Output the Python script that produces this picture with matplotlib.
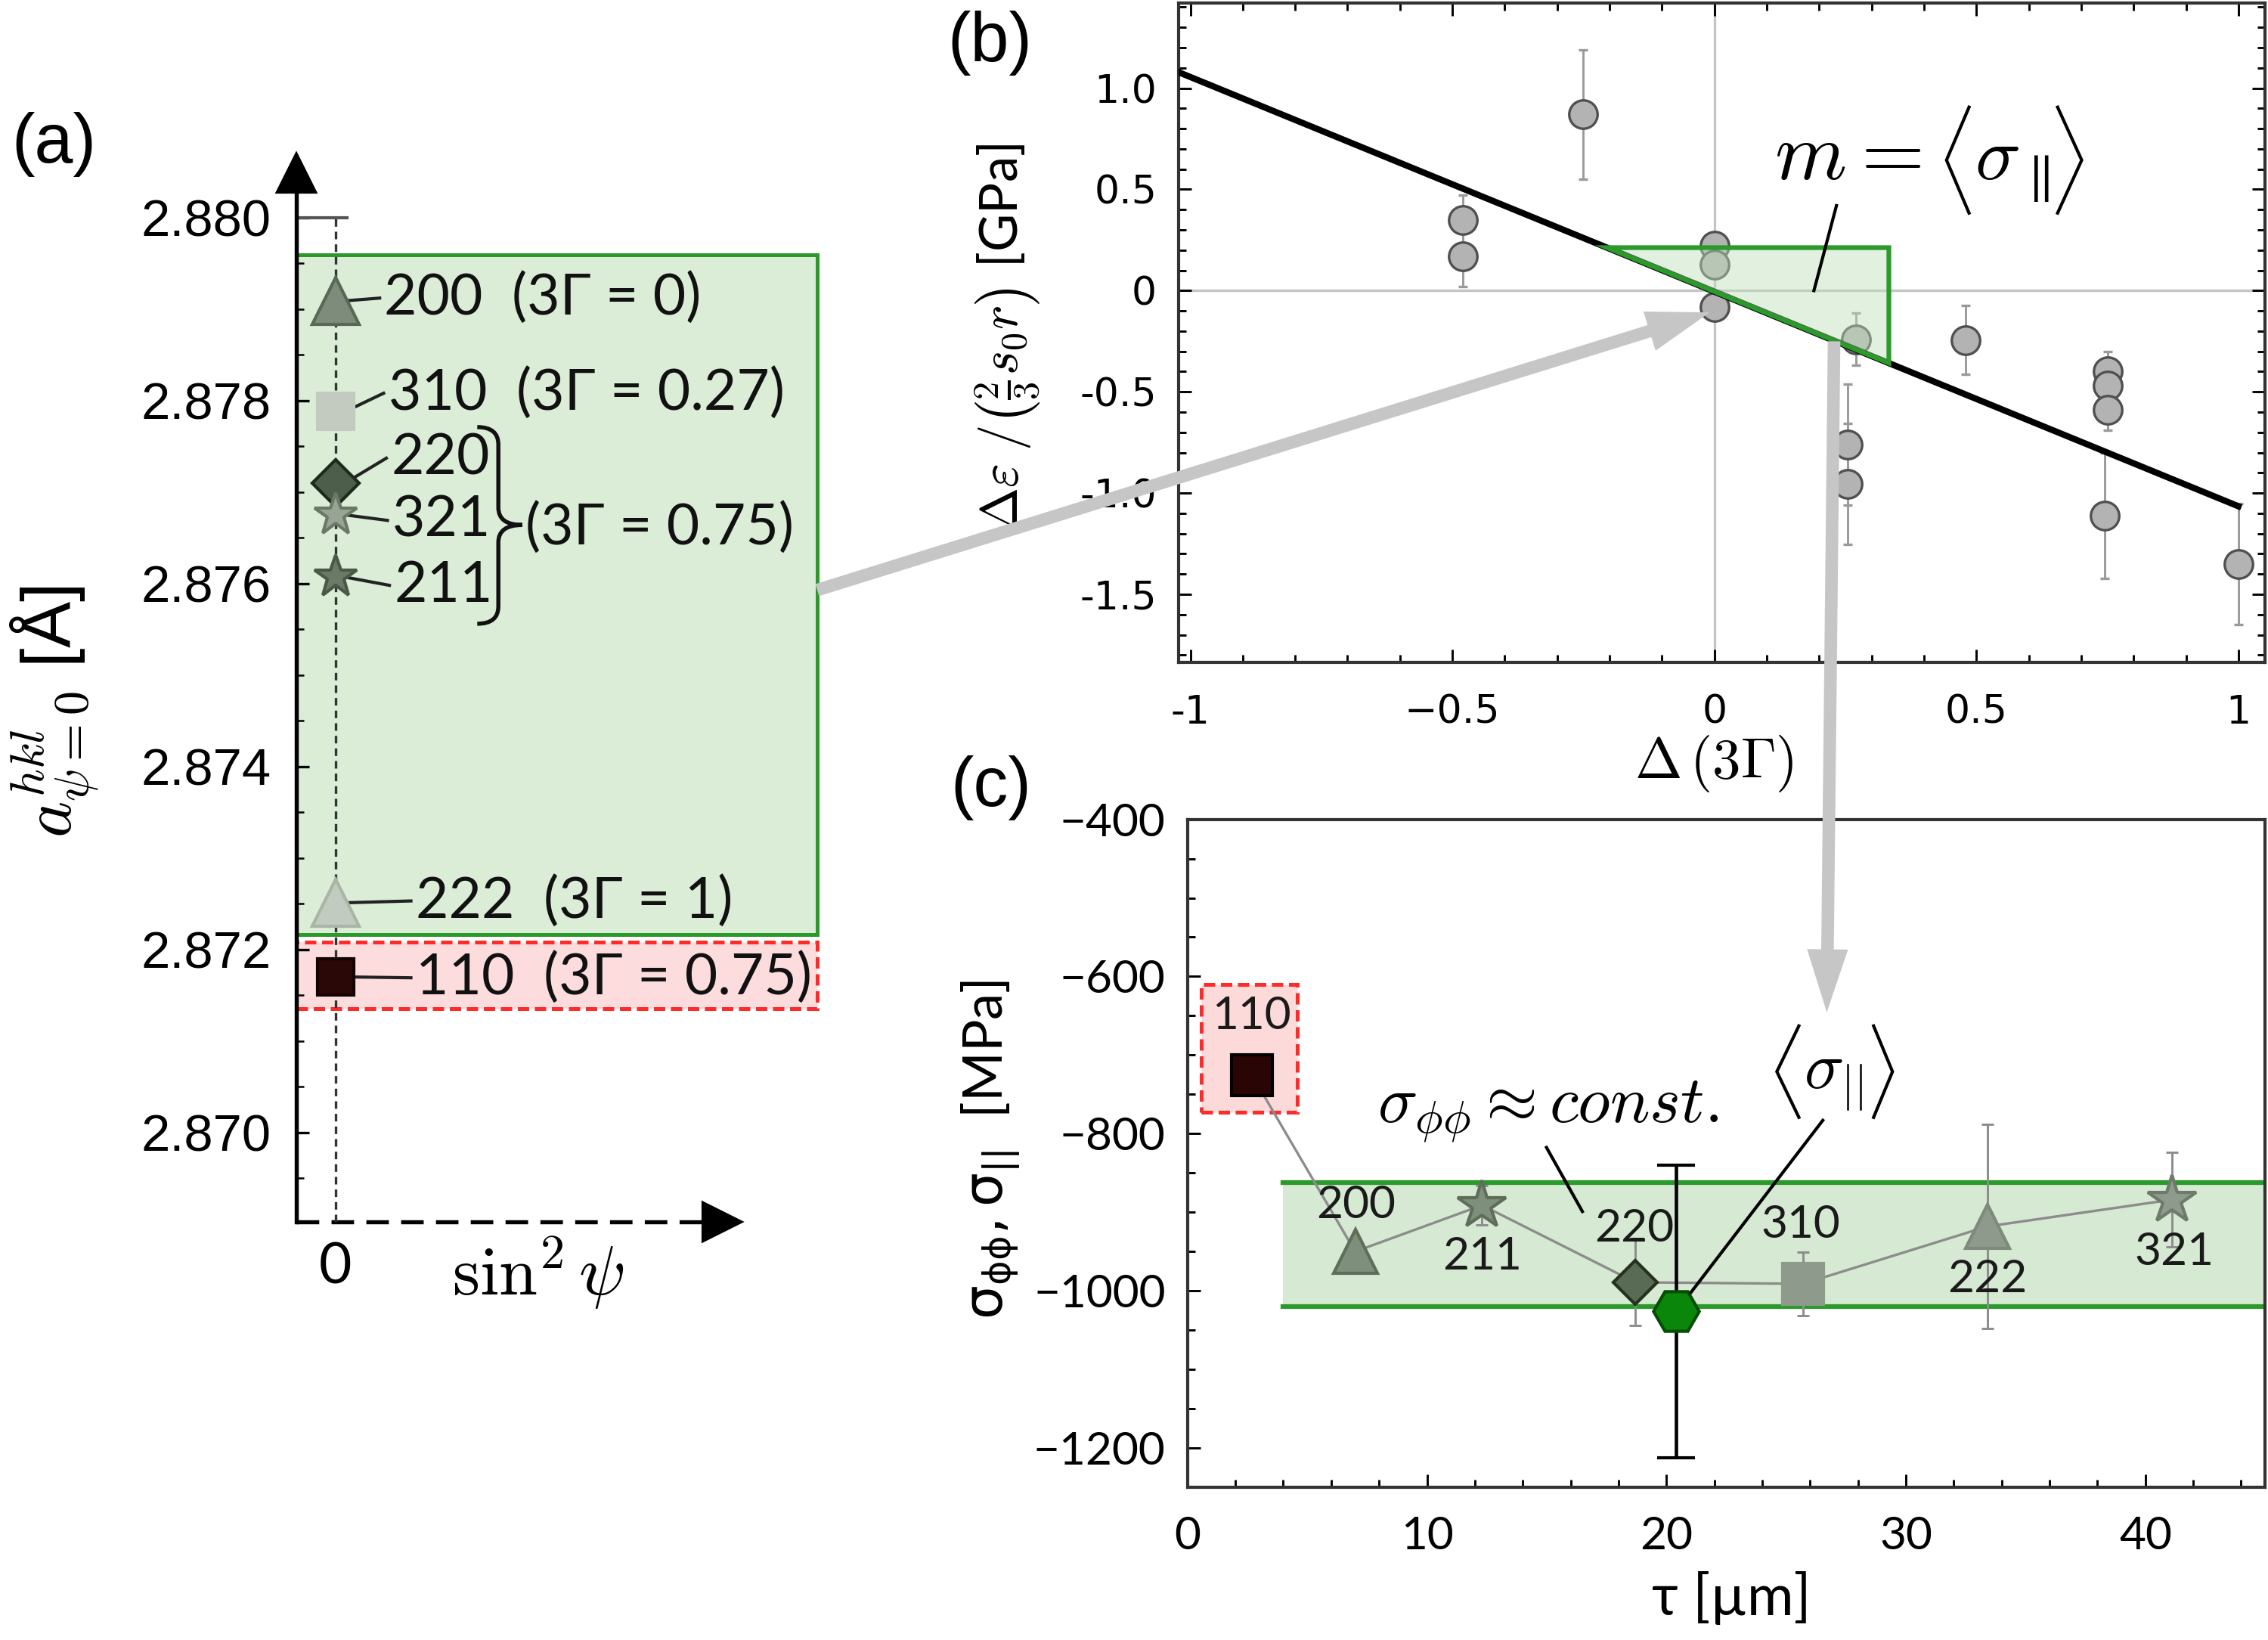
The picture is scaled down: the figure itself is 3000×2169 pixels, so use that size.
import numpy as np
import matplotlib.pyplot as plt
from matplotlib.path import Path
from matplotlib.patches import PathPatch, Rectangle, FancyArrowPatch, Polygon
from matplotlib.ticker import MultipleLocator

plt.rcParams['mathtext.fontset'] = 'cm'
plt.rcParams['font.family'] = ['Lato', 'DejaVu Sans']
plt.rcParams['axes.unicode_minus'] = True

# (a) lattice parameter at psi = 0 for each reflection
a_hkl = ['200', '310', '220', '321', '211', '222', '110']
a_lat = [2.87909, 2.87788, 2.87710, 2.87675, 2.87607, 2.87251, 2.87170]
a_gamma = ['0', '0.27', '0.75', '0.75', '0.75', '1', '0.75']

# (b) normalised strain difference vs Delta(3 Gamma)
b_dg = [-0.48, -0.48, -0.25, 0.0, 0.0, 0.0, 0.27, 0.255, 0.255, 0.48,
        0.75, 0.75, 0.75, 0.745, 1.0]
b_val = [0.35, 0.17, 0.87, 0.22, 0.13, -0.08, -0.24, -0.76, -0.955, -0.245,
         -0.40, -0.47, -0.59, -1.11, -1.35]
b_err = [0.12, 0.15, 0.32, 0.04, 0.04, 0.04, 0.13, 0.30, 0.30, 0.17,
         0.10, 0.10, 0.10, 0.31, 0.30]
b_slope = -1.06
b_icpt = -0.005
b_tri_x = [-0.205, 0.333]

# (c) stress vs information depth
c_hkl = ['110', '200', '211', '220', '310', '222', '321']
c_tau = [2.7, 7.0, 12.3, 18.7, 25.7, 33.4, 41.1]
c_sig = [-726, -950, -891, -989, -991, -918, -884]
c_err = [0, 12, 25, 55, 40, 130, 60]
mean_tau = 20.4
mean_sig = -1026
mean_err = 186
band_x = [4, 45]
band_lo, band_hi = -1020, -862

# marker styles
sty_a = {
    '200': dict(marker='^', ms=15, mfc='#7e8c7b', mec='#5a6857'),
    '310': dict(marker='s', ms=11.5, mfc='#c3cac0', mec='#c3cac0'),
    '220': dict(marker='D', ms=10.5, mfc='#4d5f4a', mec='#1e2a1c'),
    '321': dict(marker='*', ms=14, mfc='#98a595', mec='#6b7868'),
    '211': dict(marker='*', ms=14, mfc='#6a7a67', mec='#4a5848'),
    '222': dict(marker='^', ms=15, mfc='#c2cbc0', mec='#aab5a8'),
    '110': dict(marker='s', ms=11.5, mfc='#2a0808', mec='#150303'),
}
sty_c = {
    '110': dict(marker='s', ms=13, mfc='#2a0505', mec='#000000'),
    '200': dict(marker='^', ms=14, mfc='#7e8f7b', mec='#5e6e5b'),
    '211': dict(marker='*', ms=16, mfc='#7e8f7b', mec='#5e6e5b'),
    '220': dict(marker='D', ms=10, mfc='#5a6b55', mec='#26321f'),
    '310': dict(marker='s', ms=13, mfc='#8e9a8b', mec='#8e9a8b'),
    '222': dict(marker='^', ms=14, mfc='#8e9a8b', mec='#7e8a7b'),
    '321': dict(marker='*', ms=16, mfc='#8e9a8b', mec='#6e7a6b'),
}

GREEN = '#2a9a2a'
GFILL = '#d6e9d2'

W, H = 1568, 1134


def frac(x, y):
    return x / W, 1 - y / H


def angle_brackets(ax, xl_tip, xl_open, xr_open, xr_tip, y_bot, y_top):
    """thin tall angle brackets drawn as lines"""
    y_mid = 0.5 * (y_bot + y_top)
    kw = dict(color='k', lw=1.0, solid_joinstyle='miter', zorder=6)
    ax.plot([xl_open, xl_tip, xl_open], [y_top, y_mid, y_bot], **kw)
    ax.plot([xr_open, xr_tip, xr_open], [y_top, y_mid, y_bot], **kw)


fig = plt.figure(figsize=(10, 7.23), dpi=300)

# ---------------- (a) ----------------
ax_a = fig.add_axes([205 / W, 1 - 845 / H, 305 / W, (845 - 112.5) / H])
ax_a.set_xlim(-0.1, 1.03)
ax_a.set_ylim(2.86902, 2.8806)
ax_a.patch.set_visible(False)
for s in ['top', 'right', 'bottom']:
    ax_a.spines[s].set_visible(False)
ax_a.spines['left'].set_linewidth(1.3)
ax_a.plot([0], [0.99], marker='^', ms=12, color='k', transform=ax_a.transAxes, clip_on=False)
ax_a.plot([0, 0.94], [0, 0], transform=ax_a.transAxes, color='k', lw=1.3,
          ls=(0, (5.5, 3)), clip_on=False)
ax_a.plot([0.965], [0], marker='>', ms=12, color='k', transform=ax_a.transAxes, clip_on=False)

yt = np.arange(2.870, 2.8805, 0.002)
ax_a.set_yticks(yt, labels=[f'{v:.3f}' for v in yt], fontfamily='Liberation Sans', fontsize=16.5)
ax_a.yaxis.set_minor_locator(MultipleLocator(0.0005))
ax_a.tick_params(axis='y', which='major', direction='in', length=4, width=0.8, pad=8)
ax_a.tick_params(axis='y', which='minor', direction='in', length=2.5, width=0.6)
ax_a.set_xticks([0], labels=['0'], fontsize=18)
ax_a.tick_params(axis='x', length=0, pad=6)

ax_a.plot([0, 0], [2.86902, 2.880], ls=(0, (3, 2)), lw=0.8, color='#333333', zorder=2)
ax_a.plot([-0.1, 0.03], [2.880, 2.880], color='#555555', lw=1.0, zorder=2)

ax_a.add_patch(Rectangle((-0.1, 2.87216), 1.333, 0.00743, fc='#dbecd7', ec=GREEN,
                         lw=1.2, clip_on=False, zorder=1))
ax_a.add_patch(Rectangle((-0.1, 2.87135), 1.333, 0.00073, fc='#fcdcdc', ec='#ff2a2a',
                         lw=1.2, ls=(0, (3, 1.5)), clip_on=False, zorder=1))

a_label_pos = {'200': (0.125, 2.87912), '310': (0.135, 2.87808), '220': (0.142, 2.87737),
               '321': (0.145, 2.87669), '211': (0.150, 2.87598), '222': (0.205, 2.87253),
               '110': (0.205, 2.87169)}
for hkl, lat, g in zip(a_hkl, a_lat, a_gamma):
    ax_a.plot([0], [lat], linestyle='none', mew=1.0, zorder=4, clip_on=False, **sty_a[hkl])
    lx, ly = a_label_pos[hkl]
    ax_a.plot([0.025, lx - 0.012], [lat, ly], color='#222222', lw=1.0, zorder=3, clip_on=False)
    txt = hkl if g == '0.75' and hkl != '110' else f'{hkl}  (3Γ = {g})'
    ax_a.text(lx, ly, txt, ha='left', va='center', fontsize=18, color='#111111', clip_on=False)
ax_a.text(0.487, 2.87661, '(3Γ = 0.75)', ha='left', va='center', fontsize=18,
          color='#111111', clip_on=False)

# curly brace grouping 220 / 321 / 211
bx0, bx1, bx2 = 0.363, 0.417, 0.478
by_top, by_mid, by_bot, br = 2.87771, 2.87664, 2.87556, 0.00019
verts = [(bx0, by_top), (bx1, by_top), (bx1, by_top - br),
         (bx1, by_mid + br), (bx1, by_mid), (bx2, by_mid),
         (bx1, by_mid), (bx1, by_mid - br),
         (bx1, by_bot + br), (bx1, by_bot), (bx0, by_bot)]
codes = [Path.MOVETO, Path.CURVE3, Path.CURVE3, Path.LINETO, Path.CURVE3, Path.CURVE3,
         Path.CURVE3, Path.CURVE3, Path.LINETO, Path.CURVE3, Path.CURVE3]
ax_a.add_patch(PathPatch(Path(verts, codes), fc='none', ec='#111111', lw=1.3, clip_on=False))

fig.text(*frac(38, 492), r'$a^{hkl}_{\psi=0}$ [Å]', rotation=90, ha='center', va='center',
         fontsize=22, fontfamily='Liberation Sans')
fig.text(*frac(372, 880), r'$\sin^2\psi$', ha='center', va='center', fontsize=22)

# ---------------- (b) ----------------
ax_b = fig.add_axes([815 / W, 1 - 458 / H, 751 / W, 456 / H])
ax_b.set_xlim(-1.022, 1.051)
ax_b.set_ylim(-1.836, 1.421)
ax_b.axhline(0, color='#c4c4c4', lw=0.8, zorder=0)
ax_b.axvline(0, color='#c4c4c4', lw=0.8, zorder=0)
ax_b.errorbar(b_dg, b_val, yerr=b_err, fmt='o', ms=9, mfc='#b3b3b3', mec='#505050', mew=0.8,
              ecolor='#9a9a9a', elinewidth=0.7, capsize=1.5, capthick=0.7, zorder=3)
xs = np.array([-1.022, 1.0])
ax_b.plot(xs, b_slope * xs + b_icpt, color='k', lw=2, zorder=4)
tx0, tx1 = b_tri_x
ty0 = b_slope * tx0 + b_icpt
ty1 = b_slope * tx1 + b_icpt
tri = [(tx0, ty0), (tx1, ty0), (tx1, ty1)]
ax_b.add_patch(Polygon(tri, closed=True, fc='#bfe0b9', alpha=0.45, ec='none', zorder=5))
ax_b.add_patch(Polygon(tri, closed=True, fill=False, ec=GREEN, lw=1.5, zorder=6))

ax_b.text(0.115, 0.551, r'$m=$', ha='left', va='baseline', fontsize=26)
ax_b.text(0.497, 0.551, r'$\sigma_{\parallel}$', ha='left', va='baseline', fontsize=24)
angle_brackets(ax_b, 0.443, 0.486, 0.655, 0.701, 0.383, 0.906)
ax_b.plot([0.233, 0.19], [0.42, 0.0], color='k', lw=1.0, zorder=6)

ax_b.set_xticks([-1, -0.5, 0, 0.5, 1], labels=['-1', '\u22120.5', '0', '0.5', '1'],
               fontfamily='DejaVu Sans', fontsize=12.5)
ax_b.set_yticks([1, 0.5, 0, -0.5, -1, -1.5], labels=['1.0', '0.5', '0', '-0.5', '-1.0', '-1.5'],
               fontfamily='DejaVu Sans', fontsize=12.5)
ax_b.xaxis.set_minor_locator(MultipleLocator(0.1))
ax_b.yaxis.set_minor_locator(MultipleLocator(0.1))
ax_b.tick_params(which='both', direction='in', top=True, right=True, width=0.7)
ax_b.tick_params(which='major', length=4)
ax_b.tick_params(which='minor', length=2.5)
ax_b.tick_params(axis='x', pad=10)
ax_b.tick_params(axis='y', pad=7)
for s in ax_b.spines.values():
    s.set_linewidth(1.0)
    s.set_color('#333333')

fig.text(*frac(1185, 528), r'$\Delta\,(3\Gamma)$', ha='center', va='center', fontsize=18)
fig.text(*frac(697, 233), r'$\Delta\varepsilon\;/\left(\frac{2}{3}s_0 r\right)$ [GPa]',
         rotation=90, ha='center', va='center', fontsize=16.5)

# ---------------- (c) ----------------
ax_c = fig.add_axes([821 / W, 1 - 1028.5 / H, 745 / W, 462 / H])
ax_c.set_xlim(0, 45)
ax_c.set_ylim(-1250, -400)
ax_c.fill_between(band_x, band_lo, band_hi, color=GFILL, lw=0, zorder=1)
ax_c.plot(band_x, [band_hi, band_hi], color=GREEN, lw=1.5, zorder=1)
ax_c.plot(band_x, [band_lo, band_lo], color=GREEN, lw=1.5, zorder=1)
ax_c.add_patch(Rectangle((0.56, -773), 4.04, 163, fc='#fcdada', ec='#ff2a2a', lw=1.2,
                         ls=(0, (3, 1.5)), zorder=1))

ax_c.plot(c_tau, c_sig, color='#8c8c8c', lw=0.8, zorder=2)
ax_c.errorbar(c_tau, c_sig, yerr=c_err, fmt='none', ecolor='#8c8c8c', elinewidth=0.7,
              capsize=2, capthick=0.7, zorder=2)
for hkl, t, s in zip(c_hkl, c_tau, c_sig):
    ax_c.plot([t], [s], linestyle='none', mew=1.0, zorder=4, **sty_c[hkl])
ax_c.errorbar([mean_tau], [mean_sig], yerr=[mean_err], fmt='H', ms=14.5, mfc='#0a870a',
              mec='#064d06', mew=1.0, ecolor='k', elinewidth=1.1, capsize=6, capthick=1.1,
              zorder=5)

c_label_pos = {'110': (2.67, -651), '200': (7.03, -891), '211': (12.3, -956),
               '220': (18.66, -921), '310': (25.6, -916), '222': (33.4, -985),
               '321': (41.2, -951)}
for hkl in c_hkl:
    lx, ly = c_label_pos[hkl]
    ax_c.text(lx, ly, hkl, ha='center', va='center', fontsize=14.5, color='#1a1a1a', zorder=6)

ax_c.text(7.94, -786, r'$\sigma_{\phi\phi} \approx const.$', ha='left', va='baseline',
          fontsize=21)
ax_c.plot([14.99, 16.49], [-817.5, -899], color='k', lw=1.0, zorder=6)
ax_c.text(25.75, -742.7, r'$\sigma_{||}$', ha='left', va='baseline', fontsize=21)
angle_brackets(ax_c, 24.61, 25.53, 28.65, 29.44, -779.2, -662.9)
ax_c.plot([26.53, 21.02], [-783, -1002], color='k', lw=1.0, zorder=6)

ax_c.set_xticks(np.arange(0, 41, 10))
ax_c.set_yticks(np.arange(-1200, -399, 200))
ax_c.xaxis.set_minor_locator(MultipleLocator(2))
ax_c.yaxis.set_minor_locator(MultipleLocator(50))
ax_c.tick_params(which='both', direction='in', width=0.7, labelsize=14.5)
ax_c.tick_params(which='major', length=4)
ax_c.tick_params(which='minor', length=2.5)
ax_c.tick_params(axis='x', pad=9)
ax_c.tick_params(axis='y', pad=7)
for s in ax_c.spines.values():
    s.set_linewidth(1.0)
    s.set_color('#333333')

fig.text(*frac(685, 795), r'$\mathrm{\sigma_{\phi\phi},\sigma_{||}}$  [MPa]', rotation=90,
         ha='center', va='center', fontsize=17, math_fontfamily='dejavusans')
fig.text(*frac(1197, 1105), 'τ [µm]', ha='center', va='center', fontsize=18)

# panel letters
fig.text(*frac(8, 100), '(a)', ha='left', va='center', fontsize=22, fontfamily='Liberation Sans')
fig.text(*frac(655, 30), '(b)', ha='left', va='center', fontsize=22, fontfamily='Liberation Sans')
fig.text(*frac(657, 545), '(c)', ha='left', va='center', fontsize=22, fontfamily='Liberation Sans')

# gray connecting arrows
arrow_kw = dict(transform=fig.transFigure,
                arrowstyle='simple,head_length=20,head_width=13,tail_width=4',
                mutation_scale=1, color='#c6c6c6', lw=0, shrinkA=0, shrinkB=0, zorder=10)
fig.add_artist(FancyArrowPatch(frac(565, 408), frac(1182, 216), **arrow_kw))
fig.add_artist(FancyArrowPatch(frac(1268, 236), frac(1263, 700), **arrow_kw))

fig.savefig('out.png', dpi=300)
